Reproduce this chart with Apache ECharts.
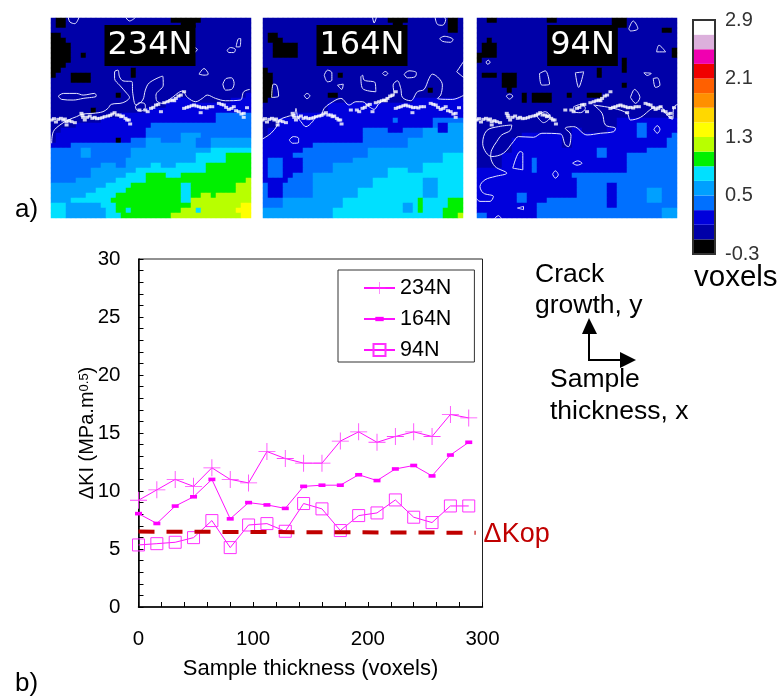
<!DOCTYPE html>
<html>
<head>
<meta charset="utf-8">
<script src="https://cdn.jsdelivr.net/npm/echarts@6/dist/echarts.min.js"></script>
<style>html,body{margin:0;padding:0;background:#fff}#c{width:781px;height:699px}</style>
</head>
<body>
<div id="c"></div>
<script>
// ---------- line chart values ----------
var thickness = [0,16,32,48,64,80,96,112,128,144,160,176,192,208,224,240,256,272,288];
var dK234 = [9.2,10.1,11.0,10.4,12.0,11.0,10.7,13.4,12.8,12.4,12.4,14.3,15.1,14.2,14.7,15.1,14.7,16.6,16.3];
var dK164 = [8.05,7.2,8.7,9.5,11.0,7.6,9.0,8.8,8.5,10.4,10.5,10.5,11.4,10.9,11.9,12.2,11.3,13.1,14.2];
var dK94  = [5.35,5.46,5.58,5.98,7.45,5.12,7.07,7.19,6.53,8.92,8.46,6.59,7.88,8.11,9.23,7.74,7.28,8.71,8.71];
var dKop  = [[0,6.5],[294,6.4]];

// ---------- colour scale ----------
var binColors = ['#000000','#0000a8','#0000dc','#0070ff','#00a0ff','#00e0ff','#00f000','#b8ff00','#ffff00','#ffd800','#ff9000','#ff6000','#f00000','#f000b0','#dcb0dc','#ffffff'];
var scaleLabels = ['-0.3','0.5','1.3','2.1','2.9'];

// ---------- contour maps: class per cell, written as class*count for each row ----------
var cells234 = [
"1*1 0*2 1*21 0*6 1*10","1*1 0*2 1*23 0*3 1*11","1*40","0*2 1*38","0*3 1*37","0*4 1*36","0*4 1*36","0*4 1*2 0*1 1*33","0*4 1*36","0*3 1*37",
"0*2 1*14 0*1 1*23","0*1 1*3 0*4 1*8 0*1 1*23","1*4 0*4 1*32","1*40","1*40","1*13 0*1 1*25 2*1","1*24 2*4 1*8 2*4","1*23 2*17","1*8 0*1 1*10 2*21","1*14 2*19 3*7",
"1*10 2*23 3*7","1*5 2*15 3*20","1*2 2*17 3*21","1*1 2*18 3*7 4*4 3*10","1*1 2*12 0*1 2*2 3*3 4*3 3*4 4*3 3*3 4*8","2*4 3*15 4*10 3*3 4*8","3*6 4*2 3*8 4*16 5*8","3*6 4*2 3*8 4*13 5*6 6*5","3*15 4*14 5*6 6*5","3*10 4*3 3*2 4*5 5*2 4*3 5*6 6*9",
"3*8 4*9 5*14 6*9","3*8 4*7 5*4 6*4 5*3 6*14","3*5 4*8 5*6 6*20 7*1","4*11 5*5 6*10 5*2 6*9 7*3","4*9 5*6 6*11 5*2 6*9 7*3","4*7 5*6 6*13 5*2 6*2 7*2 6*1 7*7","4*4 5*8 6*14 5*2 7*12","5*3 4*7 5*3 6*15 7*10 8*2","5*3 4*8 5*2 6*2 5*1 6*10 7*3 5*1 7*7 8*3","5*3 4*8 5*3 6*10 7*14 8*2"
];
var cells164 = [
"1*25 0*4 1*8 0*2 1*1","1*26 0*2 1*9 0*2 1*1","1*37 0*2 1*1","1*1 0*2 1*37","1*1 0*3 1*36","1*2 0*5 1*33","1*2 0*5 1*33","1*2 0*5 1*33","1*40","1*40",
"0*1 1*39","0*2 1*13 0*1 1*24","0*2 1*38","0*2 1*38","0*2 1*31 0*1 1*6","0*2 1*11 0*2 1*25","0*1 1*29 2*10","1*13 2*27","1*13 2*27","1*6 2*34",
"1*3 2*23 3*1 2*7 3*6","1*3 2*31 3*1 2*2 4*3","1*1 2*19 3*5 2*3 3*4 4*3 2*2 4*3","1*1 2*19 3*12 4*8","2*20 3*9 4*11","2*10 3*19 4*11","2*8 3*13 4*19","2*6 3*15 4*15 5*4","2*1 3*3 2*4 3*10 4*18 5*4","2*1 3*3 2*4 3*6 4*18 5*8",
"2*1 3*3 2*4 3*6 4*11 5*4 4*3 5*8","2*1 3*3 2*2 3*4 4*15 5*15","2*5 3*5 4*12 5*10 4*3 5*5","3*1 2*3 3*6 4*12 5*10 4*3 5*5","3*1 2*3 3*6 4*9 5*13 4*3 5*5","3*1 2*3 3*6 4*9 5*13 4*3 5*5","3*4 4*12 5*15 6*1 5*5 6*3","3*4 4*12 5*12 4*2 5*1 6*1 5*5 6*3","4*14 5*14 4*2 5*1 6*1 5*4 6*4","4*14 5*22 6*3 7*1"
];
var cells94 = [
"1*2 0*2 1*10 0*2 1*11 0*3 1*10","1*27 0*3 1*10","1*37 0*2 1*1","1*40","1*2 0*1 1*37","1*1 0*3 1*36","1*1 0*3 1*35 0*1","0*4 1*35 0*1","0*1 1*28 0*1 1*10","1*29 0*1 1*10",
"1*24 0*1 1*4 0*1 1*10","1*1 0*3 1*1 0*3 1*16 0*1 1*15","1*5 0*3 1*32","1*5 0*3 1*21 0*1 1*10","1*6 0*1 1*33","1*9 0*1 1*1 0*4 1*3 0*1 1*3 0*3 1*15","1*9 0*1 1*1 0*4 1*25","1*40","1*40","1*40",
"1*28 2*12","1*28 2*4 3*2 2*6","1*19 2*2 1*5 2*2 2*4 3*2 2*6","1*9 2*8 1*2 2*13 3*2 2*5 3*1","1*7 2*10 1*2 2*19 3*2","1*7 2*10 1*2 2*19 3*2","1*7 2*17 3*2 2*8 3*6","1*5 2*19 3*2 2*4 3*10","1*5 2*6 3*1 2*18 3*10","1*5 2*6 3*1 2*18 3*10",
"2*11 3*1 2*18 3*10","2*19 3*21","2*20 3*20","2*20 3*6 2*2 3*12","2*20 3*6 2*2 3*6 4*3 3*3","2*8 3*2 2*10 3*6 2*2 3*6 4*3 3*3","2*8 3*2 2*4 3*12 2*2 3*6 4*3 3*3","2*12 3*14 2*2 3*12","2*12 3*25 4*3","3*2 2*10 3*25 4*3"
];

// ---------- white contours and crack-front points, read in picture units of each panel ----------
var contours234 = [
[[35,400],[40,365],[60,345],[85,330],[110,320],[130,312],[160,310],[190,305],[205,295],[215,283],[250,278],[270,262],[262,250],[240,225],[225,205],[225,185],[235,180],[240,200],[250,212],[278,215],[280,250],[290,285],[310,270],[318,240],[330,218],[370,198],[372,225],[350,255],[352,272],[370,280],[395,265],[430,243],[445,262],[470,275],[490,265],[505,255],[530,265],[560,272],[605,270],[615,245],[633,238]],
[[288,290],[300,278],[315,280],[318,292],[305,303],[292,300],[288,290]],
[[55,258],[70,250],[110,250],[130,255],[165,250],[170,258],[130,265],[100,270],[65,268],[55,258]],
[[552,222],[562,205],[578,203],[586,220],[578,238],[560,240],[552,222]],
[[480,192],[495,175],[508,192],[495,195],[480,192]],
[[85,20],[90,35],[105,40],[118,20]],
[[258,20],[270,32],[290,20]],
[[565,120],[575,112],[590,118],[585,127],[570,127],[565,120]],
[[592,110],[600,85],[606,85],[603,110],[592,110]],
[[465,110],[475,118],[465,128]]
];
var contours164 = [
[[18,388],[45,370],[65,345],[70,330],[100,318],[115,315],[120,295],[125,320],[135,335],[150,350],[170,335],[180,320],[195,315],[205,295],[220,282],[255,265],[280,285],[300,275],[320,275],[340,290],[355,298],[370,280],[400,262],[415,255],[412,225],[425,212],[435,235],[440,262],[465,272],[485,245],[505,238],[520,205],[530,192],[550,205],[560,225],[555,255],[545,265],[590,268],[625,255]],
[[100,390],[112,380],[128,385],[128,398],[110,400],[100,390]],
[[205,195],[215,180],[228,188],[228,210],[215,215],[205,195]],
[[315,200],[320,195],[325,210],[358,218],[360,245],[320,235],[315,200]],
[[445,192],[460,182],[482,188],[478,200],[455,203],[445,192]],
[[380,190],[388,184],[396,190],[388,196],[380,190]],
[[603,185],[625,152],[625,203],[603,185]],
[[552,85],[565,78],[592,88],[585,96],[560,93],[552,85]],
[[538,20],[545,42],[560,45],[570,28],[565,20]],
[[47,262],[52,222],[62,225],[68,258],[47,262]],
[[145,257],[153,250],[162,257],[153,266],[145,257]],
[[245,225],[262,222],[258,238],[245,225]],
[[350,20],[355,38],[362,20]]
];
var contours94 = [
[[125,345],[120,362],[95,375],[80,395],[65,420],[62,440],[75,470],[110,490],[75,500],[45,510],[30,530],[40,550],[70,560],[60,575],[30,575],[18,565]],
[[125,345],[85,350],[50,362],[38,400],[48,428],[65,440],[100,430],[130,395],[145,380],[190,382],[215,370],[270,372],[285,405],[295,410],[302,375],[285,355],[310,350],[350,375],[390,370],[430,365],[435,355],[405,345],[395,310],[370,285],[430,295],[470,310],[480,330],[510,322],[545,295],[570,290],[585,310],[605,328],[610,290],[625,282]],
[[128,475],[150,425],[158,430],[158,480],[128,475]],
[[208,190],[225,182],[238,222],[215,225],[208,190]],
[[315,188],[340,185],[325,232],[315,188]],
[[480,262],[492,238],[508,262],[495,280],[480,262]],
[[548,205],[560,203],[568,225],[555,232],[548,205]],
[[520,188],[542,190],[530,196],[520,188]],
[[558,125],[565,105],[585,125],[558,125]],
[[475,55],[488,32],[502,55],[480,62],[475,55]],
[[108,258],[118,252],[128,258],[118,267],[108,258]],
[[48,155],[55,150],[60,157],[52,162],[48,155]],
[[550,358],[560,347],[568,358],[560,370],[550,358]],
[[307,460],[322,453],[335,460],[320,466],[307,460]],
[[247,493],[255,483],[264,495],[255,505],[247,493]],
[[142,595],[160,590],[160,600],[142,595]],
[[72,628],[85,618],[95,628]],
[[310,290],[335,282],[345,295],[330,308],[312,305],[310,290]],
[[200,318],[225,305],[240,320],[220,338],[200,318]]
];
var crackPoints = [[35,330],[42,326],[48,336],[55,328],[63,325],[70,330],[75,327],[80,335],[88,332],[95,335],[105,338],[80,345],[125,310],[128,316],[130,322],[135,330],[142,322],[150,318],[158,325],[165,322],[172,326],[180,325],[188,323],[195,320],[205,318],[212,316],[218,312],[225,308],[232,315],[240,315],[245,320],[250,318],[258,325],[263,330],[268,330],[272,342],[300,300],[318,300],[325,305],[335,295],[342,292],[350,285],[357,283],[365,305],[375,278],[385,275],[393,272],[400,270],[405,272],[410,265],[418,258],[425,255],[435,245],[435,295],[443,292],[450,290],[458,287],[465,285],[472,288],[480,290],[487,293],[495,292],[503,294],[510,290],[520,290],[485,308],[540,280],[548,283],[555,285],[562,292],[570,298],[578,295],[585,290],[592,302],[600,305],[608,312],[615,310],[625,293],[615,322]];

// ---------- assembly ----------
var FONT = '"Liberation Sans", Arial, sans-serif';
function binValue(b){ return -0.3 + 0.2*(b+0.5); }
function decode(rows){
  var out=[];
  rows.forEach(function(row,r){
    var c=0;
    row.split(' ').forEach(function(t){
      var p=t.split('*'), n=+p[1];
      for(var i=0;i<n;i++){ out.push([c,r,binValue(+p[0])]); c++; }
    });
  });
  return out;
}
var idx=[]; for(var i=0;i<40;i++) idx.push(i);
var panels=[
  {name:'234N',left:51,hl:51,width:200,ox:33,cells:cells234,contours:contours234,labelX:150},
  {name:'164N',left:262,hl:262.5,width:201,ox:18,cells:cells164,contours:contours164,labelX:362},
  {name:'94N',left:476,hl:477,width:202,ox:18,cells:cells94,contours:contours94,labelX:582.5}
];
var grids=[],xAxes=[],yAxes=[],series=[],graphics=[];
panels.forEach(function(p,i){
  grids.push({left:Math.round(p.hl),top:18,width:200,height:200});
  xAxes.push({gridIndex:i,type:'category',data:idx,show:false});
  yAxes.push({gridIndex:i,type:'category',data:idx,show:false,inverse:true});
  series.push({type:'heatmap',xAxisIndex:i,yAxisIndex:i,data:decode(p.cells),silent:true,progressive:0});
});
panels.forEach(function(p,i){
  var k=i+3;
  grids.push({left:p.left,top:17,width:p.width,height:202});
  xAxes.push({gridIndex:k,type:'value',min:p.ox,max:p.ox+604,show:false});
  yAxes.push({gridIndex:k,type:'value',min:20,max:628,inverse:true,show:false});
  p.contours.forEach(function(c){
    series.push({type:'line',xAxisIndex:k,yAxisIndex:k,data:c,symbol:'none',silent:true,z:5,smooth:0.35,
      lineStyle:{color:'#e6e6ff',width:1}});
  });
  series.push({type:'scatter',xAxisIndex:k,yAxisIndex:k,silent:true,z:6,symbol:'rect',symbolSize:[4,3],
    itemStyle:{color:'#ffffff'},
    data:crackPoints.map(function(d){return [d[0]+p.ox-33,d[1]];})});
  graphics.push({type:'text',z:100,x:p.labelX,y:45.5,style:{text:p.name,fill:'#fff',font:'32px "DejaVu Sans"',
    align:'center',verticalAlign:'middle',backgroundColor:'#000',padding:[2,3,2,3],lineHeight:37}});
});
// main line chart
grids.push({left:138.5,top:259,width:344,height:348,show:true,borderColor:'#222',borderWidth:1,backgroundColor:'transparent'});
function tickAxis(o){
  return Object.assign({gridIndex:6,type:'value',
    axisLine:{show:true,onZero:false,lineStyle:{color:'#000',width:1.5}},
    axisTick:{show:true,inside:true,length:5,lineStyle:{color:'#000'}},
    minorTick:{show:true,splitNumber:5,length:5,lineStyle:{color:'#000'}},
    splitLine:{show:false},
    axisLabel:{color:'#000',fontSize:20.5,fontFamily:FONT}},o);
}
xAxes.push(tickAxis({min:0,max:300,interval:100,name:'Sample thickness (voxels)',nameLocation:'middle',nameGap:51,
  nameTextStyle:{color:'#000',fontSize:22,fontFamily:FONT}}));
xAxes[6].axisLabel=Object.assign({},xAxes[6].axisLabel,{margin:22});
yAxes.push(tickAxis({min:0,max:30,interval:5,
  name:'{a|ΔKI (MPa.m}{s|0.5}{a|)}',nameLocation:'middle',nameRotate:90,nameGap:41,nameMoveOverlap:false,
  nameTextStyle:{rich:{a:{fontSize:20,fontFamily:FONT,color:'#000',verticalAlign:'bottom'},s:{fontSize:13,fontFamily:FONT,color:'#000',verticalAlign:'top'}}}}));
yAxes[6].axisLabel=Object.assign({},yAxes[6].axisLabel,{margin:18});
function pairs(v){ return thickness.map(function(x,i){return [x,v[i]];}); }
var crossPath='path://M4.75,0H5.25V4.75H10V5.25H5.25V10H4.75V5.25H0V4.75H4.75Z';
var dashPath='path://M0,0M10,10M1.5,3.2H8.5V6.8H1.5Z';
[['234N',dK234,crossPath,17,'#ff40ff'],['164N',dK164,dashPath,10,'#ff00ff'],['94N',dK94,'rect',12,'rgba(255,255,255,0)']].forEach(function(s){
  series.push({name:s[0],type:'line',xAxisIndex:6,yAxisIndex:6,data:pairs(s[1]),symbol:s[2],symbolSize:s[3],showSymbol:true,
    showAllSymbol:true,lineStyle:{color:'#ff10ff',width:1},z:4,
    itemStyle:{color:s[4],borderColor:s[0]==='94N'?'#ff30ff':s[4],borderWidth:s[0]==='94N'?1:0}});
});
series.push({name:'ΔKop',type:'line',xAxisIndex:6,yAxisIndex:6,symbol:'none',z:7,data:dKop,
  lineStyle:{color:'#c00000',width:4,type:[16,12]},
  endLabel:{show:true,distance:8,offset:[0,2],formatter:'ΔKop',color:'#c00000',fontSize:27,fontFamily:FONT}});
// colour bar
grids.push({left:693,top:20,width:22,height:234});
xAxes.push({gridIndex:7,type:'category',data:['scale'],show:false});
yAxes.push({gridIndex:7,type:'value',position:'right',min:0,max:16,interval:4,
  axisLine:{show:false},axisTick:{show:false},splitLine:{show:false},
  axisLabel:{margin:10,color:'#333',fontSize:20,fontFamily:FONT,formatter:function(v){return scaleLabels[v/4];}}});
binColors.forEach(function(col){
  series.push({type:'bar',stack:'scale',xAxisIndex:7,yAxisIndex:7,data:[1],barWidth:'100%',silent:true,z:1,itemStyle:{color:col}});
});
graphics.push({type:'rect',z:100,shape:{x:693,y:20,width:22,height:234},style:{stroke:'#333',lineWidth:2,fill:null}});
// text annotations
function txt(s,x,y,size){
  return {type:'text',z:100,x:x,y:y,style:{text:s,fill:'#000',font:size+'px '+FONT,align:'left',verticalAlign:'middle'}};
}
graphics.push(txt('a)',15,210,26));
graphics.push(txt('b)',15,684,26));
graphics.push(txt('voxels',694,278,29.5));
graphics.push(txt('Crack',535,275,26.5));
graphics.push(txt('growth, y',535,306,26.5));
graphics.push(txt('Sample',550,380,26.5));
graphics.push(txt('thickness, x',550,412,26.5));
graphics.push({type:'polyline',z:100,shape:{points:[[589,332],[589,360],[623,360]]},style:{stroke:'#000',lineWidth:2,fill:null}});
graphics.push({type:'polygon',z:100,shape:{points:[[589,318],[582,334],[597,334]]},style:{fill:'#000'}});
graphics.push({type:'polygon',z:100,shape:{points:[[636,360],[620,352],[620,368]]},style:{fill:'#000'}});

var vmPieces=binColors.map(function(c,b){return {min:-0.3+0.2*b,max:-0.3+0.2*(b+1),color:c};});
var chart=echarts.init(document.getElementById('c'),null,{renderer:'canvas'});
chart.setOption({
  animation:false,backgroundColor:'#fff',
  textStyle:{fontFamily:FONT},
  grid:grids,xAxis:xAxes,yAxis:yAxes,series:series,graphic:graphics,
  visualMap:{show:false,type:'piecewise',dimension:2,seriesIndex:[0,1,2],pieces:vmPieces},
  legend:{data:['234N','164N','94N'],orient:'vertical',left:338,top:270,
    padding:[7,23,1,25],itemGap:9,itemWidth:31,itemHeight:15,borderColor:'#333',borderWidth:1,backgroundColor:'#fff',
    textStyle:{fontSize:21.5,color:'#000',fontFamily:FONT}}
});
</script>
</body>
</html>
